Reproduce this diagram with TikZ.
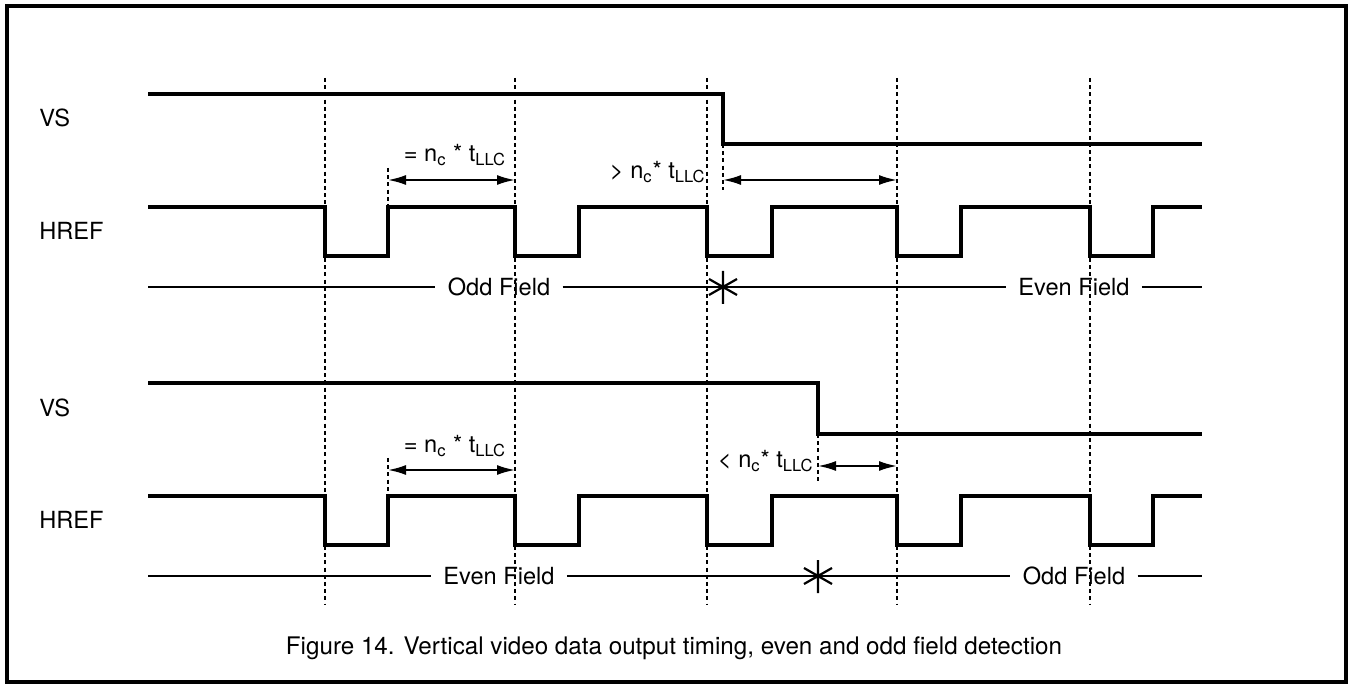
\documentclass[tikz,border=0pt]{standalone}
\usepackage{fontspec}
\setmainfont{TeX Gyre Heros}
\usetikzlibrary{arrows.meta,positioning}

\tikzset{
  sig/.style={line width=1.7pt},
  gridline/.style={line width=1pt, dash pattern=on 2pt off 1.6pt},
  dimarrow/.style={line width=1pt, {Latex[length=9pt,width=5pt]}-{Latex[length=9pt,width=5pt]}},
  fieldline/.style={line width=1.1pt},
  lbl/.style={font=\fontsize{11.8}{14}\selectfont, inner sep=1pt},
  fieldlbl/.style={lbl, inner xsep=6pt},
}

\begin{document}
\begin{tikzpicture}[x=0.5pt,y=-0.5pt]
    \useasboundingbox (0,0) rectangle (1351,684);
    \draw[line width=1.7pt] (7,6) rectangle (1346,682);

    % grid lines
    \foreach \x [count=\i] in {325,515,707,897,1090} {
        \coordinate (gt\i) at (\x,78);
        \coordinate (gb\i) at (\x,605);
        \draw[gridline] (gt\i) -- (gb\i);
    }

    % signal names
    \node[lbl,anchor=west] (vsA) at (37,118) {VS};
    \node[lbl,anchor=west] (hrefA) at (37,231) {HREF};
    \node[lbl,anchor=west] (vsB) at (37,408) {VS};
    \node[lbl,anchor=west] (hrefB) at (37,520) {HREF};

    % VS
    \draw[sig] (148,94) -- (723,94) -- (723,144) -- (1202,144);
    \draw[sig] (148,383) -- (818,383) -- (818,434) -- (1202,434);

    % HREF
    \foreach \y in {207,496} {
        \draw[sig] (148,\y)
            \foreach \f/\r in {325/388,515/579,707/772,897/961,1090/1153} {
                -- (\f,\y) -- (\f,\y+49) -- (\r,\y+49) -- (\r,\y)
            } -- (1202,\y);
    }

    % upper diagram
    \coordinate (mA1) at (388,168);
    \coordinate (mA2) at (723,144);
    \draw[gridline] (mA1) -- (388,207);
    \draw[gridline] (mA2) -- (723,190);
    \draw[dimarrow] (388,180) -- (515,180);
    \node[lbl] (eqA) at (455,155) {= n\textsubscript{c} * t\textsubscript{LLC}};
    \draw[dimarrow] (723,180) -- (897,180);
    \node[lbl,anchor=east] (gtA) at (708,172) {> n\textsubscript{c}* t\textsubscript{LLC}};

    \coordinate (sA) at (723,287);
    \node[fieldlbl] (oddA) at (499,287) {Odd Field};
    \node[fieldlbl] (evenA) at (1074,287) {Even Field};
    \draw[fieldline] (148,287) -- (oddA.west);
    \draw[fieldline] (oddA.east) -- (sA) -- (evenA.west);
    \draw[fieldline] (evenA.east) -- (1202,287);
    \draw[fieldline] ([shift={(0,-16)}]sA) -- ([shift={(0,17)}]sA)
        ([shift={(-14,-8)}]sA) -- ([shift={(14,8)}]sA)
        ([shift={(-14,8)}]sA) -- ([shift={(14,-8)}]sA);

    % lower diagram
    \coordinate (mB1) at (388,458);
    \coordinate (mB2) at (818,434);
    \draw[gridline] (mB1) -- (388,496);
    \draw[gridline] (mB2) -- (818,482);
    \draw[dimarrow] (388,470) -- (515,470);
    \node[lbl] (eqB) at (455,446) {= n\textsubscript{c} * t\textsubscript{LLC}};
    \draw[dimarrow] (818,466) -- (897,466);
    \node[lbl,anchor=east] (ltB) at (816,461) {< n\textsubscript{c}* t\textsubscript{LLC}};

    \coordinate (sB) at (818,576);
    \node[fieldlbl] (evenB) at (499,576) {Even Field};
    \node[fieldlbl] (oddB) at (1074,576) {Odd Field};
    \draw[fieldline] (148,576) -- (evenB.west);
    \draw[fieldline] (evenB.east) -- (sB) -- (oddB.west);
    \draw[fieldline] (oddB.east) -- (1202,576);
    \draw[fieldline] ([shift={(0,-16)}]sB) -- ([shift={(0,17)}]sB)
        ([shift={(-14,-8)}]sB) -- ([shift={(14,8)}]sB)
        ([shift={(-14,8)}]sB) -- ([shift={(14,-8)}]sB);

    \node[lbl,font=\fontsize{12.1}{15}\selectfont] (caption) at (674,648) {Figure 14. Vertical video data output timing, even and odd field detection};
\end{tikzpicture}
\end{document}
